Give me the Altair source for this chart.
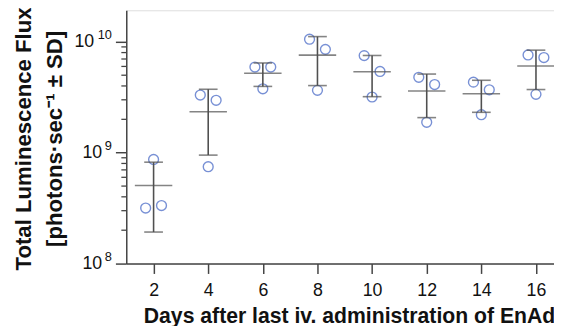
import altair as alt
import pandas as pd

# Days after last iv. administration
days = [2, 4, 6, 8, 10, 12, 14, 16]
# Individual animals (three per day), grouped by their jitter slot in the scatter
left_vals = [3.17e8, 3.31e9, 5.92e9, 1.057e10, 7.51e9, 4.79e9, 4.33e9, 7.62e9]
center_vals = [8.7e8, 7.48e8, 3.77e9, 3.65e9, 3.18e9, 1.88e9, 2.20e9, 3.36e9]
right_vals = [3.34e8, 2.97e9, 5.92e9, 8.55e9, 5.41e9, 4.12e9, 3.69e9, 7.21e9]

major_ticks = [1e8, 1e9, 1e10]
exponents = ["8", "9", "10"]
minor_ticks = [m * 10 ** e for e in (8, 9) for m in range(2, 10)]
x_ticks = [2, 4, 6, 8, 10, 12, 14, 16]

rows = []
for slot, vals in ((-1, left_vals), (0, center_vals), (1, right_vals)):
    for d, v in zip(days, vals):
        rows.append({"day": d, "slot": slot, "flux": v})
df = pd.DataFrame(rows)
minor_df = pd.DataFrame({"v": minor_ticks})

FONT = "Liberation Sans"
AX = "#444444"
BAR = "#505050"
BLUE = "#3f62c4"
TXT = "#111111"

xscale = alt.Scale(domain=[1, 16.66], nice=False, zero=False)
yscale = alt.Scale(type="log", domain=[1e8, 10 ** 10.2844], nice=False)

x_axis = alt.Axis(
    values=x_ticks, grid=False, tickSize=10, labelFontSize=18, labelPadding=8,
    labelColor=TXT, labelFont=FONT, domainColor=AX, tickColor=AX,
    domainWidth=1.5, tickWidth=1.5,
    title="Days after last iv. administration of EnAd", titleFont=FONT,
    titleFontSize=21.5, titleFontWeight="bold", titleColor=TXT,
    titleBaseline="middle", titleY=54, titleX=226,
)

big_exp_test = "datum.value > 5e9"
y_major = alt.Axis(
    orient="left", values=major_ticks, grid=False, tickSize=11, tickWidth=1.5,
    labelFontSize=18,
    labelPadding={"condition": {"test": big_exp_test, "value": 22}, "value": 14},
    labelFont=FONT, labelColor=TXT, labelExpr="'10'", labelBaseline="middle",
    domainColor=AX, tickColor=AX, domainWidth=1.5,
    title=["Total Luminescence Flux", "[photons·sec⁻¹ ± SD]"], titleFont=FONT,
    titleFontSize=22.5, titleFontWeight="bold", titleColor=TXT,
    titleLineHeight=31, titleBaseline="middle", titleAlign="center",
    titleAngle=270, titleX=-104, titleY=130,
)

exp_expr = " : ".join(
    f"datum.value < {v * 3:.0e} ? '{e}'" for v, e in zip(major_ticks[:-1], exponents[:-1])
) + f" : '{exponents[-1]}'"
y_exp = alt.Axis(
    orient="left", values=major_ticks, grid=False, ticks=False, tickSize=0,
    domain=False, labelFontSize=13, labelPadding=15, labelFont=FONT,
    labelColor=TXT, labelExpr=exp_expr, labelBaseline="middle", labelOffset=-7,
    title=None,
)

base = alt.Chart(df)

points = base.transform_calculate(
    xj="datum.day + 0.29 * datum.slot"
).mark_point(shape="circle", filled=False, size=100, strokeWidth=1.4, color=BLUE).encode(
    x=alt.X("xj:Q", scale=xscale, axis=x_axis),
    y=alt.Y("flux:Q", scale=yscale, axis=y_major),
)

agg = base.transform_aggregate(
    mean="mean(flux)", sd="stdev(flux)", groupby=["day"]
).transform_calculate(
    lo="datum.mean - datum.sd", hi="datum.mean + datum.sd"
)

rule = agg.mark_rule(color=BAR, strokeWidth=1.6).encode(
    x=alt.X("day:Q", scale=xscale),
    y=alt.Y("lo:Q", scale=yscale, axis=None),
    y2="hi:Q",
)
mean_tick = agg.mark_tick(orient="horizontal", size=38, thickness=1.6, color=BAR).encode(
    x=alt.X("day:Q", scale=xscale),
    y=alt.Y("mean:Q", scale=yscale, axis=y_exp),
)
cap_lo = agg.mark_tick(orient="horizontal", size=19, thickness=1.6, color=BAR).encode(
    x=alt.X("day:Q", scale=xscale),
    y=alt.Y("lo:Q", scale=yscale, axis=None),
)
cap_hi = agg.mark_tick(orient="horizontal", size=19, thickness=1.6, color=BAR).encode(
    x=alt.X("day:Q", scale=xscale),
    y=alt.Y("hi:Q", scale=yscale, axis=None),
)

# minor log ticks on the y axis
minor = alt.Chart(minor_df).mark_rule(color=AX, strokeWidth=1.3).encode(
    x=alt.value(0), x2=alt.value(-5),
    y=alt.Y("v:Q", scale=yscale, axis=None),
)

chart = alt.layer(points, rule, mean_tick, cap_lo, cap_hi, minor).resolve_axis(
    y="independent"
).resolve_scale(y="shared").properties(
    width=434, height=257,
    autosize=alt.AutoSizeParams(type="none"),
    padding={"left": 120, "top": 0, "right": 0, "bottom": 61},
).configure_view(stroke=None).configure(background="white")

chart.save("out.html", embed_options={"renderer": "svg", "actions": False})
